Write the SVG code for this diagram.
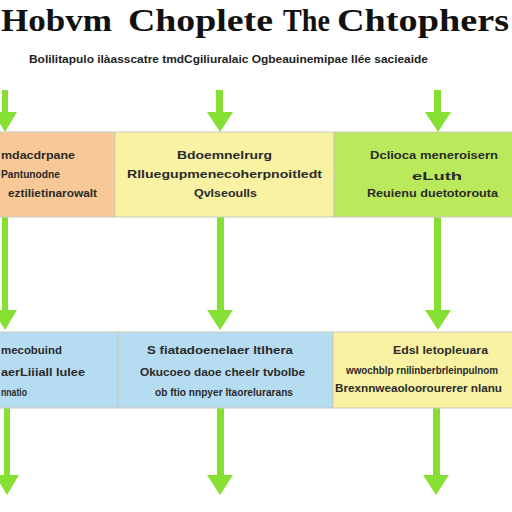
<svg xmlns="http://www.w3.org/2000/svg" width="512" height="512" viewBox="0 0 512 512">
<style>
.title{font-family:"Liberation Serif","DejaVu Serif",serif;font-weight:bold;font-size:31px;fill:#111}
.sub{font-family:"Liberation Sans",Arial,sans-serif;font-weight:bold;font-size:10px;fill:#222}
.t{font-family:"Liberation Sans",Arial,sans-serif;font-weight:bold;font-size:11.5px;fill:#2a2a2a}
.box{stroke:#c9c9c0;stroke-width:1}
.arr{fill:#86e034}
</style>
<rect width="512" height="512" fill="#ffffff"/>
<g id="title">
<text class="title" x="1" y="31" textLength="111" lengthAdjust="spacingAndGlyphs">Hobvm</text>
<text class="title" x="128" y="31" textLength="145" lengthAdjust="spacingAndGlyphs">Choplete</text>
<text class="title" x="283" y="31" textLength="47" lengthAdjust="spacingAndGlyphs">The</text>
<text class="title" x="337" y="31" textLength="172" lengthAdjust="spacingAndGlyphs">Chtophers</text>
<text class="sub" x="29" y="63" textLength="399" lengthAdjust="spacingAndGlyphs">Bolilitapulo ilàasscatre tmdCgiliuralaic Ogbeauinemipae llée sacieaide</text>
</g>
<g id="connectors">
<path class="arr" d="M2,90h6v22h9l-12,20l-12,-20h9z"/>
<path class="arr" d="M216,90h7v22h10l-13,20l-13,-20h9z"/>
<path class="arr" d="M434,90h7v22h10l-13,20l-13,-20h9z"/>
<path class="arr" d="M2,217h6v93h9l-12,20l-12,-20h9z"/>
<path class="arr" d="M217,217h7v93h9l-13,20l-13,-20h10z"/>
<path class="arr" d="M434,217h7v93h10l-13,20l-13,-20h9z"/>
<path class="arr" d="M4,408h6v67h9l-12,20l-12,-20h9z"/>
<path class="arr" d="M217,408h7v67h9l-13,20l-13,-20h10z"/>
<path class="arr" d="M433,408h7v67h9l-13,20l-13,-20h10z"/>
</g>
<g id="node-top-1">
<rect class="box" x="-1" y="132" width="116" height="85" fill="#f8c996"/>
<text class="t" x="1" y="159" textLength="74" lengthAdjust="spacingAndGlyphs">mdacdrpane</text>
<text class="t" x="1" y="178" textLength="59" lengthAdjust="spacingAndGlyphs">Pantunodne</text>
<text class="t" x="8" y="197" textLength="89" lengthAdjust="spacingAndGlyphs">eztilietinarowalt</text>
</g>
<g id="node-top-2">
<rect class="box" x="115" y="132" width="219" height="85" fill="#f8f2a2"/>
<text class="t" x="177" y="159" textLength="95" lengthAdjust="spacingAndGlyphs">Bdoemnelrurg</text>
<text class="t" x="127" y="178" textLength="195" lengthAdjust="spacingAndGlyphs">Rlluegupmenecoherpnoitledt</text>
<text class="t" x="194" y="197" textLength="63" lengthAdjust="spacingAndGlyphs">Qvlseoulls</text>
</g>
<g id="node-top-3">
<rect class="box" x="334" y="132" width="179" height="85" fill="#bbe95c"/>
<text class="t" x="370" y="159" textLength="128" lengthAdjust="spacingAndGlyphs">Dclioca meneroisern</text>
<text class="t" x="412" y="180" font-size="15" font-weight="normal" textLength="50" lengthAdjust="spacingAndGlyphs">eLuth</text>
<text class="t" x="367" y="197" textLength="131" lengthAdjust="spacingAndGlyphs">Reuienu duetotorouta</text>
</g>
<g id="node-bottom-1">
<rect class="box" x="-1" y="332" width="119" height="76" fill="#b6dcf1"/>
<text class="t" x="1" y="354" textLength="61" lengthAdjust="spacingAndGlyphs">mecobuind</text>
<text class="t" x="1" y="376" textLength="84" lengthAdjust="spacingAndGlyphs">aerLiiiall lulee</text>
<text class="t" x="1" y="396" textLength="26" lengthAdjust="spacingAndGlyphs">nnatio</text>
</g>
<g id="node-bottom-2">
<rect class="box" x="118" y="332" width="215" height="76" fill="#b6dcf1"/>
<text class="t" x="147" y="354" textLength="146" lengthAdjust="spacingAndGlyphs">S fiatadoenelaer ltlhera</text>
<text class="t" x="140" y="376" textLength="165" lengthAdjust="spacingAndGlyphs">Okucoeo daoe cheelr tvbolbe</text>
<text class="t" x="155" y="396" textLength="138" lengthAdjust="spacingAndGlyphs">ob ftio nnpyer ltaorelurarans</text>
</g>
<g id="node-bottom-3">
<rect class="box" x="333" y="332" width="180" height="76" fill="#f8f2a2"/>
<text class="t" x="393" y="354" textLength="95" lengthAdjust="spacingAndGlyphs">Edsl letopleuara</text>
<text class="t" x="346" y="374" font-size="10" textLength="152" lengthAdjust="spacingAndGlyphs">wwochblp rnilinberbrleinpulnom</text>
<text class="t" x="335" y="392" textLength="167" lengthAdjust="spacingAndGlyphs">Brexnnweaoloorourerer nlanu</text>
</g>
</svg>
